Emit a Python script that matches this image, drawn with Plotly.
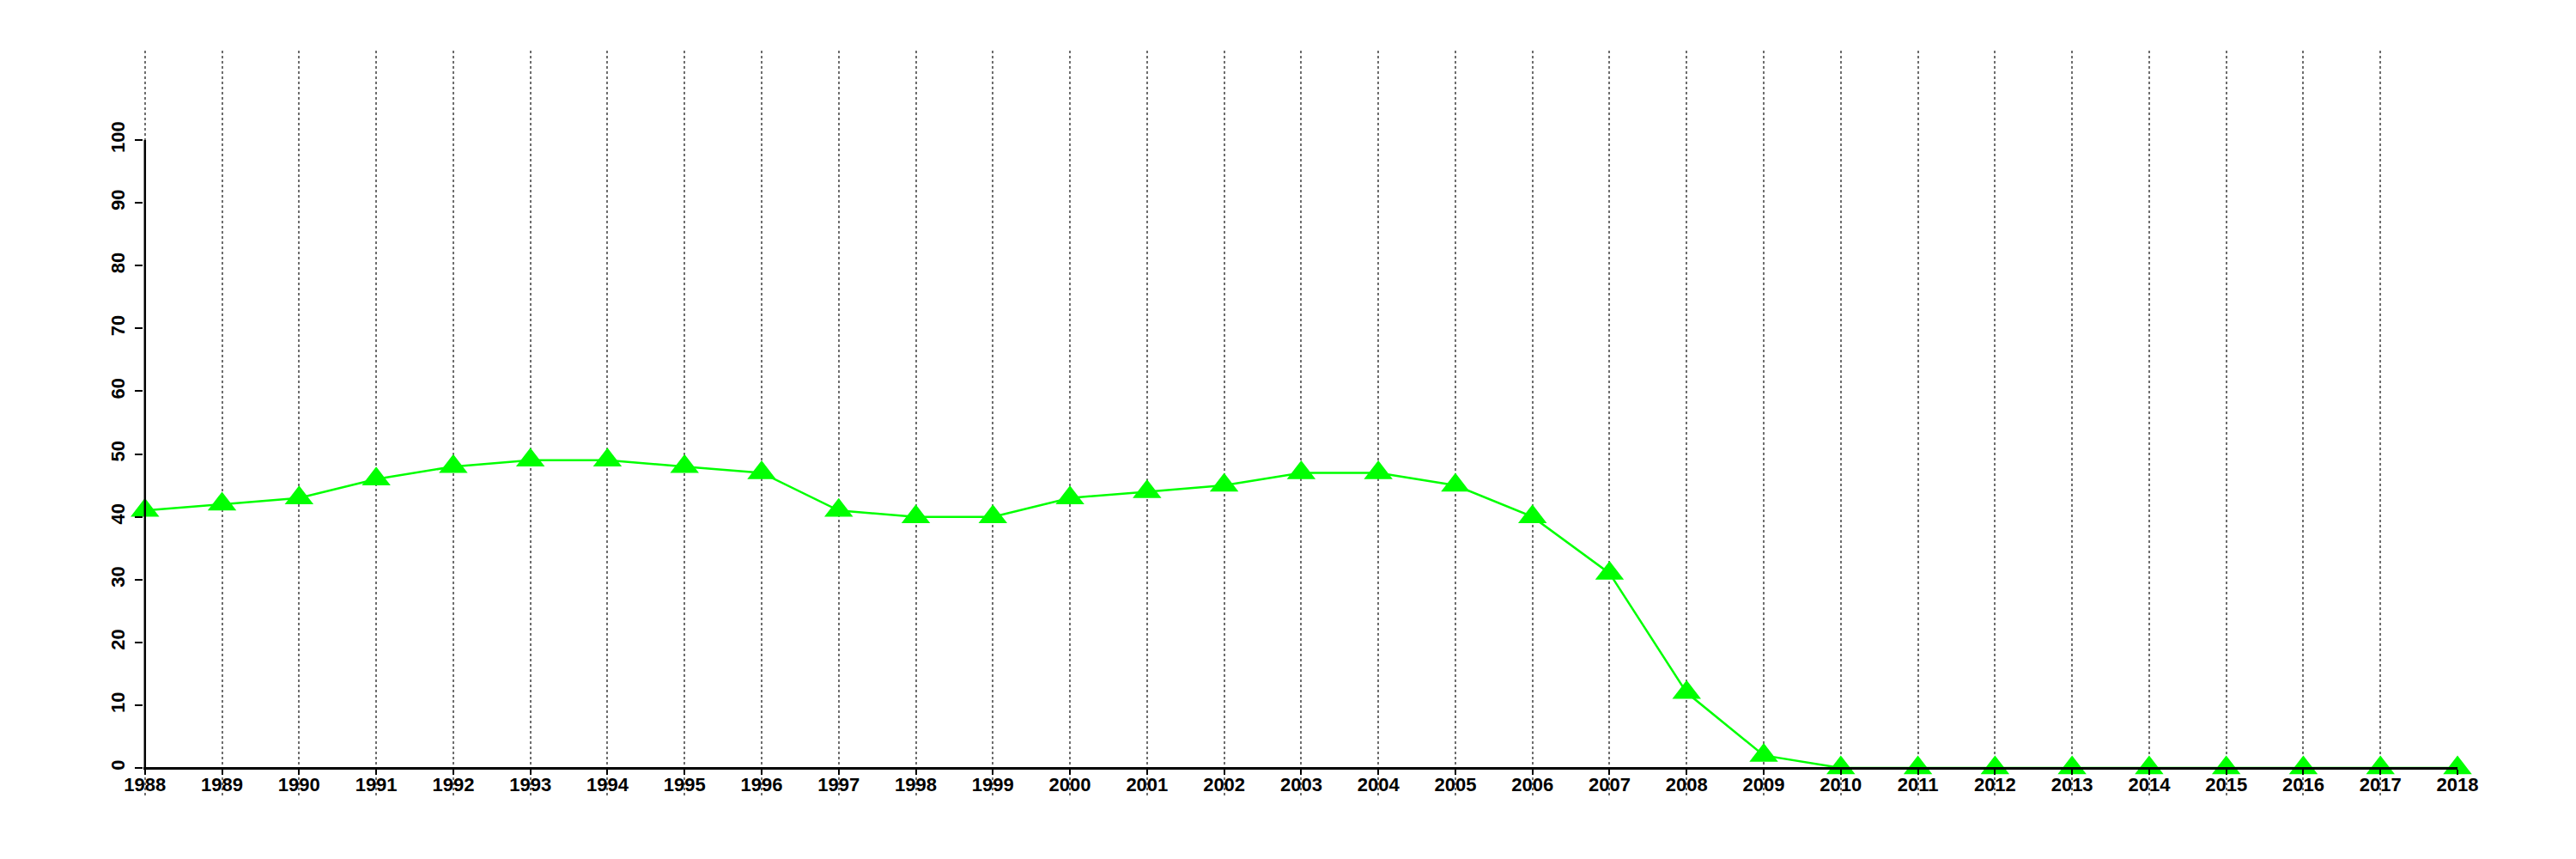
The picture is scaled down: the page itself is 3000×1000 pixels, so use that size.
import plotly.graph_objects as go

years = list(range(1988, 2019))
values = [41, 42, 43, 46, 48, 49, 49, 48, 47, 41, 40, 40, 43, 44, 45, 47, 47, 45,
          40, 31, 12, 2, 0, 0, 0, 0, 0, 0, 0, 0, 0]
y_ticks = list(range(0, 101, 10))

Y_MIN, Y_MAX = -4.51, 114.23
FONT = dict(family="Liberation Sans", size=22, color="black", weight="bold")

fig = go.Figure()
fig.add_trace(go.Scatter(
    x=years, y=values, mode="lines+markers",
    line=dict(color="#00FF00", width=2.5),
    marker=dict(symbol="triangle-up", size=29, color="#00FF00"),
    cliponaxis=False, showlegend=False,
))

# y axis line spanning 0..100 only
fig.add_shape(type="line", xref="x", yref="y", x0=years[0], x1=years[0],
              y0=y_ticks[0], y1=y_ticks[-1], line=dict(color="black", width=2.5),
              layer="above")

# page body has an 8px default margin, so the figure is 8px smaller
fig.update_layout(
    width=2992, height=992,
    margin=dict(l=159, r=138, t=51, b=73),
    plot_bgcolor="white", paper_bgcolor="white",
    font=FONT,
    xaxis=dict(
        range=[years[0] - 0.02, years[-1]],
        tickvals=years, ticktext=[str(y) for y in years],
        showgrid=True, gridcolor="#6e6e6e", gridwidth=2, griddash="3px,3px",
        showline=True, linecolor="black", linewidth=2.5,
        ticks="outside", ticklen=6, tickwidth=2, tickcolor="black",
        zeroline=False, anchor="free",
        position=(0 - Y_MIN) / (Y_MAX - Y_MIN),
        ticklabelstandoff=-7,
        tickfont=FONT,
    ),
    yaxis=dict(
        range=[Y_MIN, Y_MAX],
        tickvals=y_ticks, ticktext=[str(v) for v in y_ticks],
        tickangle=-90,
        showgrid=False, showline=False, zeroline=False,
        ticks="outside", ticklen=9, tickwidth=2, tickcolor="black",
        ticklabelstandoff=3,
        tickfont=FONT,
    ),
)

fig.write_html("out.html")
